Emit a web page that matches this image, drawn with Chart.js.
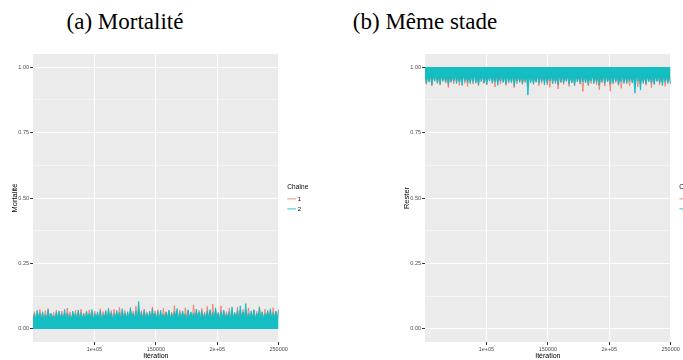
<!DOCTYPE html>
<html>
<head>
<meta charset="utf-8">
<script src="https://cdn.jsdelivr.net/npm/chart.js@4"></script>
<style>
  html, body { margin: 0; padding: 0; background: #fff; width: 683px; height: 360px; overflow: hidden; }
  .title { position: absolute; top: 9px; font-family: "Liberation Serif", serif; font-size: 23px; color: #000; white-space: nowrap; transform: translateX(-50%); }
  .panel { position: absolute; top: 40px; }
</style>
</head>
<body>
<div class="title" style="left:125px">(a) Mortalité</div>
<div class="title" style="left:425px">(b) Même stade</div>
<div class="panel" style="left:0"><canvas id="mort" width="340" height="320"></canvas></div>
<div class="panel" style="left:392px"><canvas id="reste" width="340" height="320"></canvas></div>
<script>
// trace plots, two chains, iterations 50000..250000 (thinned)
const iterStart = 50000;
const iterEnd = 250000;
const xTicks = [100000, 150000, 200000, 250000];
const xTickLabels = ['1e+05', '150000', '2e+05', '250000'];
const yTicks = [0, 0.125, 0.25, 0.375, 0.5, 0.625, 0.75, 0.875, 1];
const yTickLabels = ['0.00', '', '0.25', '', '0.50', '', '0.75', '', '1.00'];
const chainNames = ['1', '2'];

const mortChain1 = [
 .036,.066, .031,.059, .040,.074, .034,.061, .038,.070, .030,.078, .042,.057, .035,.063, .037,.072, .033,.060,
 .039,.068, .032,.062, .041,.080, .036,.065, .029,.059, .038,.071, .034,.066, .040,.076, .031,.061, .037,.069,
 .035,.073, .041,.063, .030,.068, .038,.060, .033,.077, .039,.066, .036,.072, .032,.061, .042,.070, .034,.075,
 .037,.063, .031,.082, .040,.067, .035,.071, .038,.060, .030,.074, .041,.068, .036,.087, .033,.064, .039,.070,
 .034,.076, .038,.065, .032,.062, .040,.084, .036,.069, .031,.073, .039,.061, .035,.079, .041,.066, .033,.071,
 .037,.064, .030,.089, .042,.068, .034,.072, .038,.066, .032,.081, .040,.070, .036,.063, .031,.092, .039,.067,
 .035,.071, .041,.078, .033,.065, .038,.086, .030,.069, .037,.095, .034,.073, .040,.064, .036,.088, .032,.070,
 .039,.066, .035,.079, .041,.071, .031,.063, .038,.083, .034,.068, .037,.074, .042,.070, .033,.080, .036,.065,
 .040,.072, .032,.067, .038,.085, .035,.064, .030,.076, .041,.069, .036,.073, .033,.081, .039,.066, .034,.075
];
const mortChain2 = [
 .038,.058, .032,.071, .041,.062, .035,.066, .029,.055, .040,.073, .036,.060, .043,.052, .031,.064, .037,.069,
 .042,.057, .034,.075, .028,.061, .039,.054, .036,.068, .044,.059, .033,.072, .030,.063, .040,.056, .035,.066,
 .037,.060, .041,.074, .031,.058, .038,.065, .034,.070, .029,.055, .042,.067, .036,.079, .039,.062, .033,.058,
 .040,.071, .035,.064, .030,.077, .043,.060, .037,.066, .032,.082, .041,.059, .038,.069, .034,.105, .036,.063,
 .031,.070, .042,.058, .037,.068, .033,.075, .039,.061, .035,.066, .030,.072, .041,.057, .036,.064, .040,.071,
 .034,.060, .038,.067, .043,.078, .032,.062, .036,.069, .041,.058, .029,.073, .037,.065, .039,.061, .035,.076,
 .042,.064, .033,.070, .038,.059, .031,.068, .040,.074, .036,.063, .034,.081, .043,.060, .030,.067, .038,.072,
 .035,.058, .041,.066, .032,.084, .039,.062, .036,.071, .030,.088, .042,.065, .037,.097, .033,.061, .040,.069,
 .038,.074, .034,.060, .041,.083, .029,.066, .037,.058, .043,.070, .035,.077, .031,.062, .039,.068, .036,.072
];
const resteChain1 = [
 .968,.934, .972,.942, .965,.928, .975,.945, .970,.937, .966,.931, .973,.944, .969,.939, .964,.922, .971,.941,
 .967,.936, .974,.943, .970,.930, .965,.947, .972,.938, .968,.926, .975,.942, .966,.935, .971,.940, .969,.929,
 .973,.944, .964,.937, .970,.932, .967,.946, .974,.939, .966,.924, .972,.941, .968,.935, .965,.943, .971,.930,
 .969,.938, .975,.945, .966,.921, .972,.936, .967,.942, .970,.933, .964,.940, .973,.927, .968,.944, .971,.935,
 .966,.941, .974,.929, .969,.938, .965,.946, .972,.931, .967,.923, .970,.942, .975,.936, .964,.917, .971,.940,
 .968,.933, .973,.945, .966,.926, .970,.939, .967,.930, .974,.943, .965,.935, .972,.907, .969,.941, .966,.928,
 .971,.937, .968,.944, .973,.932, .964,.913, .970,.940, .967,.927, .975,.943, .966,.908, .972,.935, .969,.941,
 .965,.931, .971,.919, .968,.944, .974,.936, .966,.929, .970,.942, .967,.934, .973,.925, .964,.940, .969,.937,
 .972,.930, .966,.943, .970,.921, .967,.938, .974,.945, .965,.932, .971,.939, .968,.926, .973,.942, .966,.934
];
const resteChain2 = [
 .970,.938, .966,.945, .973,.931, .968,.947, .975,.940, .964,.935, .971,.949, .967,.942, .972,.933, .969,.944,
 .965,.946, .974,.937, .970,.943, .966,.929, .973,.948, .968,.941, .964,.936, .971,.944, .975,.939, .967,.932,
 .972,.945, .969,.940, .965,.934, .970,.947, .974,.938, .966,.943, .971,.930, .968,.946, .973,.941, .964,.935,
 .970,.944, .967,.939, .975,.928, .969,.946, .965,.942, .972,.936, .968,.947, .966,.893, .973,.940, .970,.934,
 .964,.943, .971,.938, .967,.945, .974,.931, .969,.940, .966,.947, .972,.936, .968,.942, .965,.933, .970,.944,
 .973,.939, .967,.946, .971,.935, .964,.941, .969,.929, .975,.945, .966,.937, .972,.943, .968,.940, .970,.932,
 .965,.947, .973,.936, .967,.942, .971,.930, .966,.945, .974,.938, .969,.944, .964,.934, .972,.940, .968,.946,
 .970,.931, .965,.943, .973,.937, .967,.941, .971,.945, .969,.939, .966,.900, .974,.947, .968,.912, .972,.941,
 .964,.936, .970,.944, .967,.938, .973,.933, .965,.946, .971,.940, .968,.929, .974,.943, .966,.937, .970,.935
];

const red = 'rgba(248,118,109,0.85)';
const teal = 'rgba(0,191,196,0.85)';
const tealFill = '#15BEC3';

function toPoints(vals) {
  const step = (iterEnd - iterStart) / (vals.length - 1);
  return vals.map((v, i) => ({ x: iterStart + i * step, y: v }));
}

const panelBg = {
  id: 'panelBg',
  beforeDraw(chart) {
    const a = chart.chartArea, c = chart.ctx;
    c.save();
    c.fillStyle = '#EBEBEB';
    c.fillRect(a.left, a.top, a.right - a.left, a.bottom - a.top);
    c.restore();
  }
};

// nudge the legend a bit right and up, like ggplot's guide box
const legendNudge = {
  id: 'legendNudge',
  afterLayout(chart) {
    const lg = chart.legend;
    lg.left += 6; lg.right += 6;
    lg.top -= 7; lg.bottom -= 7;
  }
};

function makePanel(id, yTitle, c1, c2, level) {
  new Chart(document.getElementById(id), {
    type: 'line',
    data: {
      datasets: [{
        label: chainNames[0],
        data: toPoints(c1),
        borderColor: red,
        borderWidth: 1,
        pointRadius: 0,
        fill: false,
        order: 2
      }, {
        label: chainNames[1],
        data: toPoints(c2),
        borderColor: teal,
        backgroundColor: tealFill,
        borderWidth: 1,
        pointRadius: 0,
        fill: { value: level },
        order: 1
      }]
    },
    options: {
      responsive: false,
      animation: false,
      parsing: false,
      layout: { padding: { left: 10, top: 14, right: 35, bottom: 0 } },
      plugins: {
        tooltip: { enabled: false },
        legend: {
          position: 'right',
          labels: {
            usePointStyle: true,
            pointStyle: 'line',
            boxWidth: 9,
            padding: 4,
            color: '#000',
            font: { family: 'Liberation Sans', size: 6 },
            sort: (a, b) => a.datasetIndex - b.datasetIndex
          },
          title: {
            display: true,
            text: 'Chaîne',
            color: '#000',
            font: { family: 'Liberation Sans', size: 6.5 }
          }
        }
      },
      scales: {
        x: {
          type: 'linear',
          min: iterStart,
          max: iterEnd,
          afterBuildTicks: s => { s.ticks = xTicks.map(v => ({ value: v })); },
          afterFit: s => { s.height = 18; },
          border: { display: false },
          grid: { color: '#fff', lineWidth: 1, tickLength: 3, tickColor: '#333' },
          ticks: {
            autoSkip: false,
            maxRotation: 0,
            padding: 1,
            color: '#4D4D4D',
            font: { family: 'Liberation Sans', size: 5.5 },
            callback: (v, i) => xTickLabels[i]
          },
          title: { display: true, text: 'Itération', color: '#000', padding: 0, font: { family: 'Liberation Sans', size: 7 } }
        },
        y: {
          min: -0.05,
          max: 1.05,
          afterBuildTicks: s => { s.ticks = yTicks.map(v => ({ value: v })); },
          afterFit: s => { s.width = 23; },
          border: { display: false },
          grid: {
            color: '#fff',
            lineWidth: ctx => (ctx.index % 2 ? 0.5 : 1),
            tickLength: 3,
            tickColor: ctx => (ctx.index % 2 ? 'rgba(0,0,0,0)' : '#333')
          },
          ticks: {
            autoSkip: false,
            padding: 1,
            color: '#4D4D4D',
            font: { family: 'Liberation Sans', size: 5.5 },
            callback: (v, i) => yTickLabels[i]
          },
          title: { display: true, text: yTitle, color: '#000', padding: 0, font: { family: 'Liberation Sans', size: 7.5 } }
        }
      }
    },
    plugins: [panelBg, legendNudge]
  });
}

makePanel('mort', 'Mortalité', mortChain1, mortChain2, 0);
makePanel('reste', 'Rester', resteChain1, resteChain2, 1);
</script>
</body>
</html>
